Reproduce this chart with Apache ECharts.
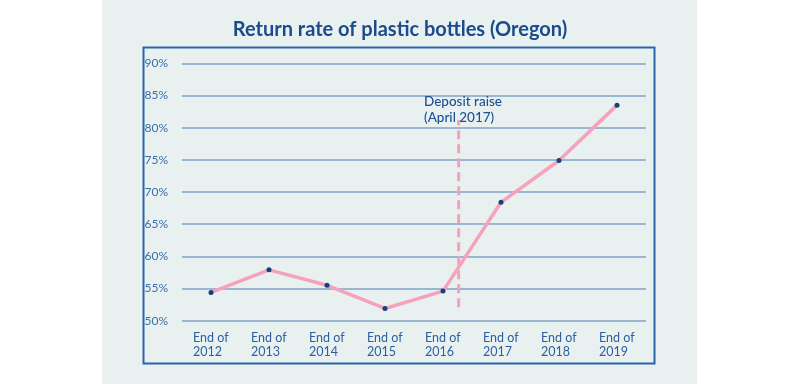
<!DOCTYPE html>
<html>
<head>
<meta charset="utf-8">
<script src="https://cdn.jsdelivr.net/npm/echarts@6/dist/echarts.min.js"></script>
<style>
html,body{margin:0;padding:0;background:#fff;}
#c{width:800px;height:384px;}
</style>
</head>
<body>
<div id="c"></div>
<script>
const titleText = 'Return rate of plastic bottles (Oregon)';
const categories = ['End of\n2012','End of\n2013','End of\n2014','End of\n2015','End of\n2016','End of\n2017','End of\n2018','End of\n2019'];
const returnRate = [54.4, 57.9, 55.5, 51.9, 54.6, 68.4, 74.9, 83.5];
const yTicks = [50, 55, 60, 65, 70, 75, 80, 85, 90];
const depositPos = 4.77;           // April 2017 on the category scale (index units, centre = i+0.5)
const depositRange = [52.1, 81.2]; // vertical extent of the dashed marker (%)
const depositLabel = 'Deposit raise\n(April 2017)';

const chart = echarts.init(document.getElementById('c'), null, {renderer:'canvas'});
const font = 'Lato, "Noto Sans", Roboto, sans-serif';
chart.setOption({
  backgroundColor: '#ffffff',
  animation: false,
  title: {
    text: titleText, left: 'center', top: 15,
    textStyle: {fontFamily: font, fontSize: 20, fontWeight: 'bold', color: '#1b4b8c'}
  },
  graphic: [
    {type:'rect', z:-100, silent:true, shape:{x:102, y:0, width:595, height:384}, style:{fill:'#e9f1f0'}},
    {type:'rect', z:-90, silent:true, shape:{x:143.5, y:47.5, width:511, height:316}, style:{fill:'none', stroke:'#2864aa', lineWidth:2}},
    {type:'text', z:10, left:424, top:94, style:{text: depositLabel, font:'500 13.5px ' + font, fill:'#1d4f91', lineHeight:15.5}}
  ],
  grid: {left:182, right:154, top:63.3, bottom:63.3, containLabel:false},
  xAxis: [
    {
      type:'category', data: categories, boundaryGap:true,
      axisLine:{show:false}, axisTick:{show:false},
      axisLabel:{
        interval:0, margin:10, color:'#2d5f9e', fontFamily: font, fontSize:12.5, lineHeight:14.5,
        formatter: v => v.split('\n').map(s => '{a|' + s + '}').join('\n'),
        rich:{a:{width:36, align:'left', fontSize:12.5, lineHeight:14.5, color:'#2d5f9e', fontFamily: font}}
      }
    },
    {type:'value', min:0, max:categories.length, show:false}
  ],
  yAxis: {
    type:'value', min: yTicks[0], max: yTicks[yTicks.length-1], interval: 5,
    axisLine:{show:false}, axisTick:{show:false},
    axisLabel:{margin:14, color:'#3b6ea8', fontFamily: font, fontSize:12, formatter: v => v + '%'},
    splitLine:{lineStyle:{color:'#7fa3c9', width:1.6}}
  },
  series: [
    {
      type:'line', xAxisIndex:1, z:1,
      data: depositRange.map(v => [depositPos, v]),
      symbol:'none',
      lineStyle:{color:'#f4a0bc', width:3, type:[9,5]}
    },
    {
      type:'line', xAxisIndex:0, z:3,
      data: returnRate,
      symbol:'circle', symbolSize:5,
      itemStyle:{color:'#163f7c', borderWidth:0},
      lineStyle:{color:'#f6a2be', width:3.5}
    }
  ]
});
</script>
</body>
</html>
